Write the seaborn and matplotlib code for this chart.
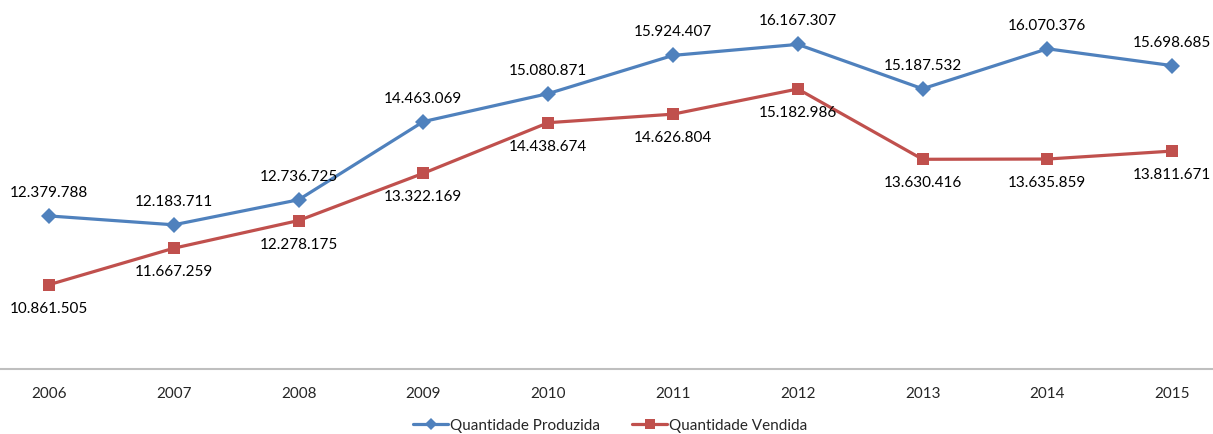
import matplotlib
matplotlib.use("Agg")
import matplotlib.pyplot as plt
import seaborn as sns
import pandas as pd
from matplotlib.lines import Line2D

years = ["2006", "2007", "2008", "2009", "2010", "2011", "2012", "2013", "2014", "2015"]
produzida = [12379788, 12183711, 12736725, 14463069, 15080871, 15924407, 16167307, 15187532, 16070376, 15698685]
vendida = [10861505, 11667259, 12278175, 13322169, 14438674, 14626804, 15182986, 13630416, 13635859, 13811671]
series_names = ["Quantidade Produzida", "Quantidade Vendida"]

sns.set_theme(style="white")
plt.rcParams["font.family"] = ["Lato", "DejaVu Sans"]

BLUE = "#4F81BD"
RED = "#C0504D"

df = pd.DataFrame({
    "x": list(range(len(years))) * 2,
    "valor": produzida + vendida,
    "serie": [series_names[0]] * len(years) + [series_names[1]] * len(years),
})

fig = plt.figure(figsize=(12.13, 4.35), dpi=100)
ax = fig.add_axes([0, 65 / 435, 1, 370 / 435])

sns.lineplot(data=df, x="x", y="valor", hue="serie", style="serie",
             palette={series_names[0]: BLUE, series_names[1]: RED},
             markers={series_names[0]: "D", series_names[1]: "s"},
             dashes=False, markersize=8, linewidth=2.3, markeredgewidth=0,
             legend=False, ax=ax)

def fmt(v):
    return f"{v:,}".replace(",", ".")

for i, v in enumerate(produzida):
    ax.annotate(fmt(v), (i, v), xytext=(0, 24), textcoords="offset pixels",
                ha="center", va="center", fontsize=11, color="#000000")
for i, v in enumerate(vendida):
    ax.annotate(fmt(v), (i, v), xytext=(0, -23), textcoords="offset pixels",
                ha="center", va="center", fontsize=11, color="#000000")

ppx = 124.8
ax.set_xlim(-49 / ppx, (1213 - 49) / ppx)
ax.set_ylim(9000000, 9000000 + 370 * 22080)
ax.set_xticks(range(len(years)))
ax.set_xticklabels(years, fontsize=11)
ax.set_yticks([])
ax.set_xlabel("")
ax.set_ylabel("")
ax.tick_params(axis="x", length=0, pad=12)
for s in ["top", "right", "left"]:
    ax.spines[s].set_visible(False)
ax.spines["bottom"].set_color("#BFBFBF")
ax.spines["bottom"].set_linewidth(1.5)
ax.set_facecolor("white")

handles = [
    Line2D([0], [0], color=BLUE, lw=2.3, marker="D", markersize=6, markeredgewidth=0),
    Line2D([0], [0], color=RED, lw=2.3, marker="s", markersize=7, markeredgewidth=0),
]
fig.legend(handles, series_names, loc="center", bbox_to_anchor=(0.503, 9 / 435),
           ncol=2, frameon=False, fontsize=11, handlelength=2.3, handletextpad=0.1,
           columnspacing=2.1, borderpad=0)

fig.savefig("out.png", dpi=100, facecolor="white")
